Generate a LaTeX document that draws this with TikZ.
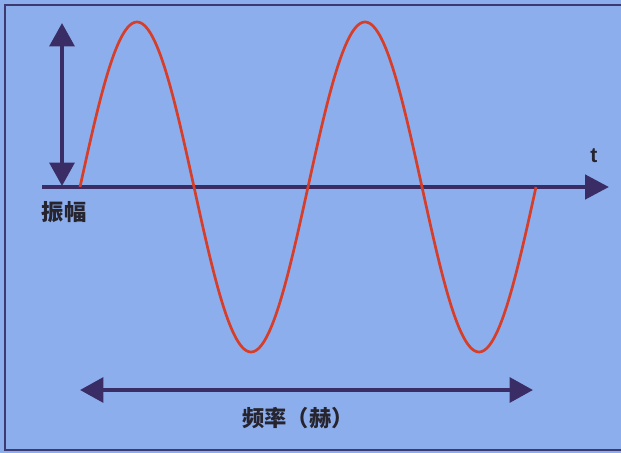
\documentclass[tikz,border=0pt]{standalone}
\usepackage{fontspec}
\usepackage{xcolor}
\usepackage{tikz}
\usetikzlibrary{arrows.meta, positioning}
\newfontfamily\cjk{Noto Sans CJK SC}
\setsansfont{Liberation Sans}
\definecolor{panelBlue}{HTML}{8DAEEC}
\definecolor{frameDark}{HTML}{3C3A6E}
\definecolor{arrowNavy}{HTML}{3A2D66}
\definecolor{waveRed}{HTML}{D63E2A}
\definecolor{labelInk}{HTML}{26242E}

\begin{document}
\begin{tikzpicture}[
    x=0.03cm, y=-0.03cm,
    axisline/.style={draw=arrowNavy, line width=4pt, -{Triangle[length=0.72cm, width=0.72cm]}},
    dimline/.style={draw=arrowNavy, line width=3.4pt, {Triangle[length=0.7cm, width=0.74cm]}-{Triangle[length=0.7cm, width=0.74cm]}},
    wave/.style={draw=waveRed, line width=2.3pt},
    lbl/.style={inner sep=0pt, text=labelInk, font=\cjk\bfseries\fontsize{19}{21}\selectfont},
]
    \useasboundingbox (0,0) rectangle (621,453);
    \fill[panelBlue] (0,0) rectangle (621,453);
    \draw[frameDark, line width=1pt] (621,5) -- (5,5) -- (5,450) -- (621,450);

    % axis and amplitude
    \coordinate (axL) at (42,187);
    \coordinate (axR) at (609,187);
    \coordinate (ampTop) at (62,23);
    \coordinate (ampBot) at (62,186);
    \draw[dimline] (ampTop) -- (ampBot);
    \draw[axisline] (axL) -- (axR);

    % two periods of the wave
    \draw[wave] plot[domain=0:720, samples=240, smooth] ({80+\x*0.63333}, {187-165*sin(\x)});

    % frequency span
    \coordinate (frqL) at (80,390);
    \coordinate (frqR) at (533,390);
    \draw[dimline] (frqL) -- (frqR);

    \node[inner sep=0pt, text=labelInk, font=\sffamily\bfseries\fontsize{18}{19}\selectfont] (tLabel) at (594,156) {t};
    \node[lbl] (ampLabel) at (64,212) {振幅};
    \node[lbl] (frqLabel) at (298,418) {频率（赫）};
\end{tikzpicture}
\end{document}
